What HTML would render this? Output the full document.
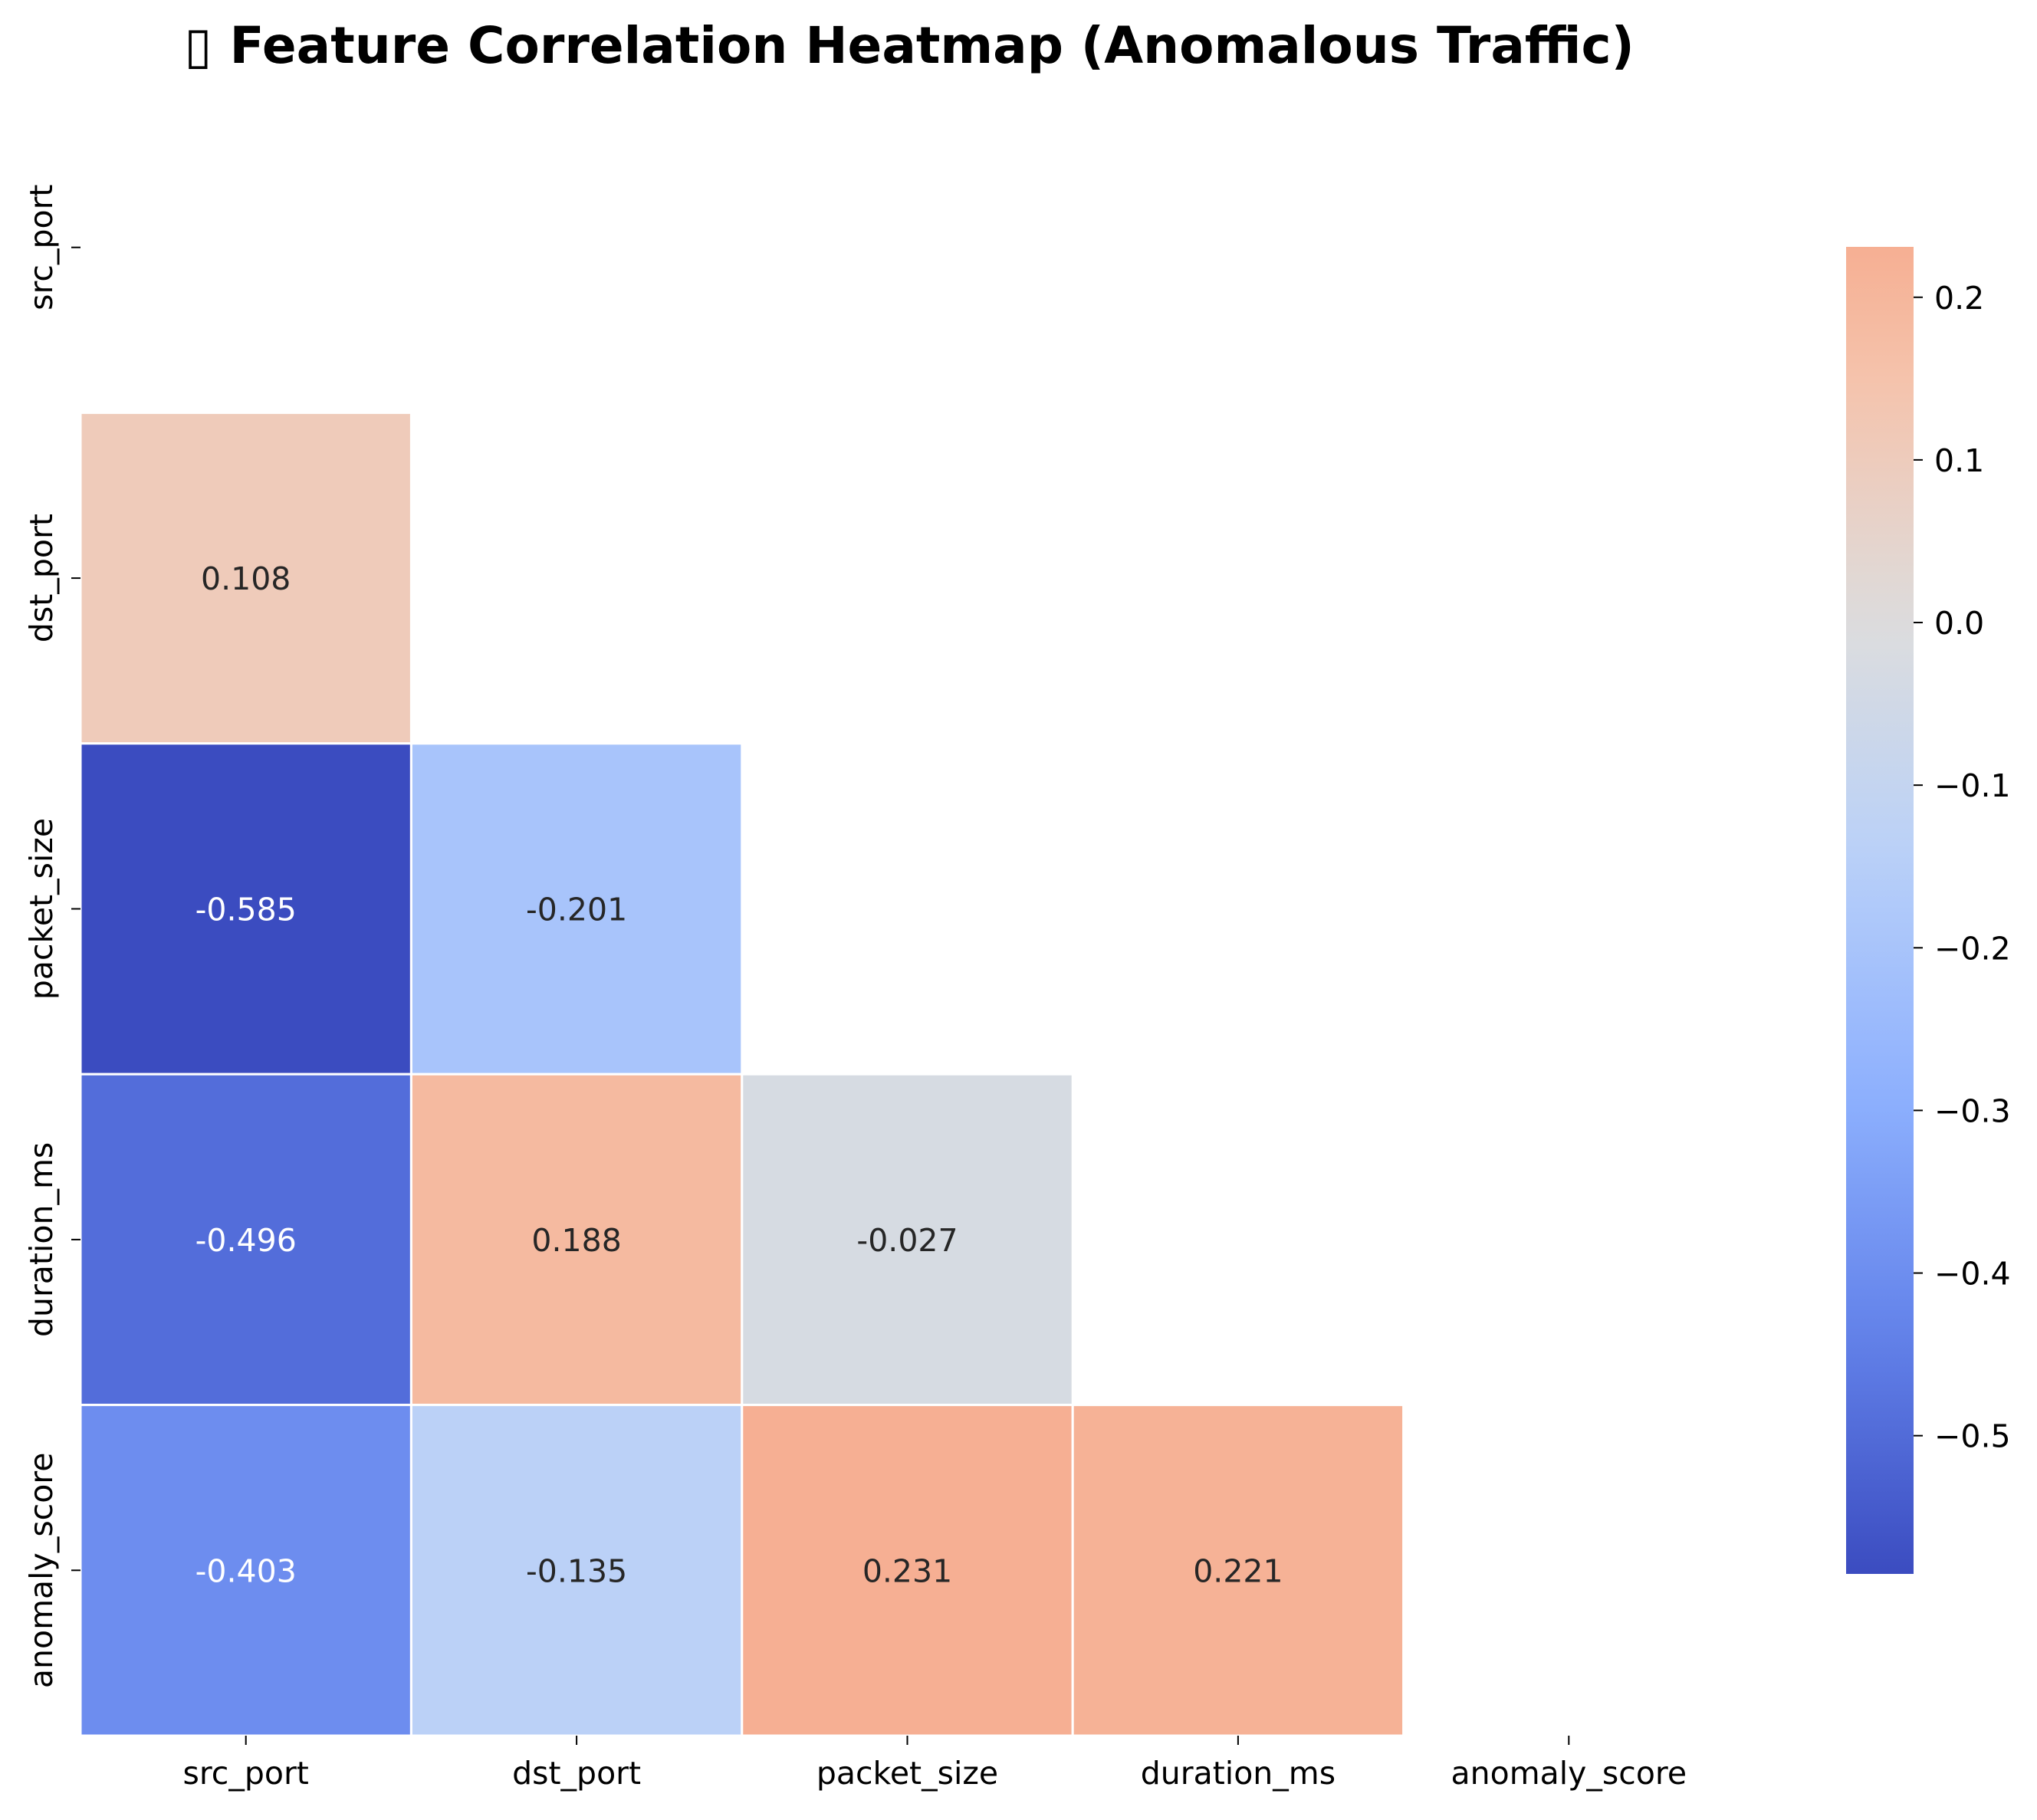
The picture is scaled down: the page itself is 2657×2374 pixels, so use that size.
<!DOCTYPE html>
<html><head><meta charset="utf-8">
<style>
html,body{margin:0;padding:0;background:#fff;}
svg{display:block;font-family:"DejaVu Sans","Liberation Sans",sans-serif;}
</style></head>
<body>
<svg id="chart" width="2657" height="2374" viewBox="0 0 2657 2374" xmlns="http://www.w3.org/2000/svg">
<defs>
<linearGradient id="cbgrad" x1="0" y1="1" x2="0" y2="0"></linearGradient>
</defs>
<text x="1186" y="82" text-anchor="middle" font-size="66" font-weight="bold" fill="#000">▯ Feature Correlation Heatmap (Anomalous Traffic)</text>
<g id="cells"></g>
<g id="axes"></g>
<g id="colorbar"></g>
</svg>
<script>
const features = ["src_port","dst_port","packet_size","duration_ms","anomaly_score"];
const rowIdx = [1,2,2,3,3,3,4,4,4,4];
const colIdx = [0,0,1,0,1,2,0,1,2,3];
const corrValues = [0.108,-0.585,-0.201,-0.496,0.188,-0.027,-0.403,-0.135,0.231,0.221];
const cbTicks = [0.2,0.1,0.0,-0.1,-0.2,-0.3,-0.4,-0.5];
const cbTickLabels = ["0.2","0.1","0.0","\u22120.1","\u22120.2","\u22120.3","\u22120.4","\u22120.5"];

const NS="http://www.w3.org/2000/svg";
const X0=105,Y0=107,CELL=431.4;
const vmin=Math.min(...corrValues), vmax=Math.max(...corrValues);
const half=Math.max(Math.abs(vmin),Math.abs(vmax));
const anchors=[[0,[59,76,192]],[0.125,[98,130,234]],[0.25,[141,176,254]],[0.375,[184,208,249]],[0.5,[221,221,221]],[0.625,[245,196,173]],[0.75,[246,160,128]],[0.875,[222,96,77]],[1,[180,4,38]]];
function cmap(t){t=Math.max(0,Math.min(1,t));for(let i=0;i<anchors.length-1;i++){const [a,ca]=anchors[i],[b,cb]=anchors[i+1];if(t<=b){const f=(t-a)/(b-a);return "rgb("+ca.map((c,k)=>Math.round(c+(cb[k]-c)*f)).join(",")+")";}}return "rgb(180,4,38)";}
function norm(v){return 0.5+v/(2*half);}
function mk(tag,attrs,parent){const e=document.createElementNS(NS,tag);for(const k in attrs)e.setAttribute(k,attrs[k]);parent.appendChild(e);return e;}
const cells=document.getElementById('cells');
corrValues.forEach((v,i)=>{
  const r=rowIdx[i],c=colIdx[i];
  const rect=mk('rect',{x:X0+c*CELL,y:Y0+r*CELL,width:CELL,height:CELL,fill:cmap(norm(v)),stroke:'#fff','stroke-width':3},cells);
  
  
  const t=mk('text',{x:X0+(c+0.5)*CELL,y:Y0+(r+0.5)*CELL+15,'text-anchor':'middle','font-size':41,fill:Math.abs(norm(v)-0.5)>0.3?'#fff':'#262626'},cells);
  t.textContent=v.toFixed(3);
  
  
});
const axes=document.getElementById('axes');
const gridBottom=Y0+features.length*CELL;
features.forEach((f,i)=>{
  const cx=X0+(i+0.5)*CELL, cy=Y0+(i+0.5)*CELL;
  mk('line',{x1:cx,y1:gridBottom,x2:cx,y2:gridBottom+12,stroke:'#000','stroke-width':2},axes);
  const tx=mk('text',{x:cx,y:gridBottom+63,'text-anchor':'middle','font-size':41,fill:'#000'},axes);
  tx.textContent=f;
  
  
  mk('line',{x1:X0-12,y1:cy,x2:X0,y2:cy,stroke:'#000','stroke-width':2},axes);
  const ty=mk('text',{x:0,y:0,'text-anchor':'middle','font-size':41,fill:'#000',transform:'translate(68,'+cy+') rotate(-90)'},axes);
  ty.textContent=f;
  
  
});
const CBX=2408,CBW=88,CBTOP=322,CBBOT=2053;
function cbY(v){return CBBOT-(v-vmin)/(vmax-vmin)*(CBBOT-CBTOP);}
const grad=document.getElementById('cbgrad');
for(let i=0;i<=20;i++){const v=vmin+(vmax-vmin)*i/20;mk('stop',{offset:(i/20),'stop-color':cmap(norm(v))},grad);}
const cb=document.getElementById('colorbar');
const cbr=mk('rect',{x:CBX,y:CBTOP,width:CBW,height:CBBOT-CBTOP,fill:'url(#cbgrad)'},cb);


cbTicks.forEach((v,i)=>{
  const y=cbY(v);
  mk('line',{x1:CBX+CBW,y1:y,x2:CBX+CBW+12,y2:y,stroke:'#000','stroke-width':2},cb);
  const t=mk('text',{x:CBX+CBW+27,y:y+15,'font-size':41,fill:'#000'},cb);
  t.textContent=cbTickLabels[i];
  
  
});
</script>
</body></html>
